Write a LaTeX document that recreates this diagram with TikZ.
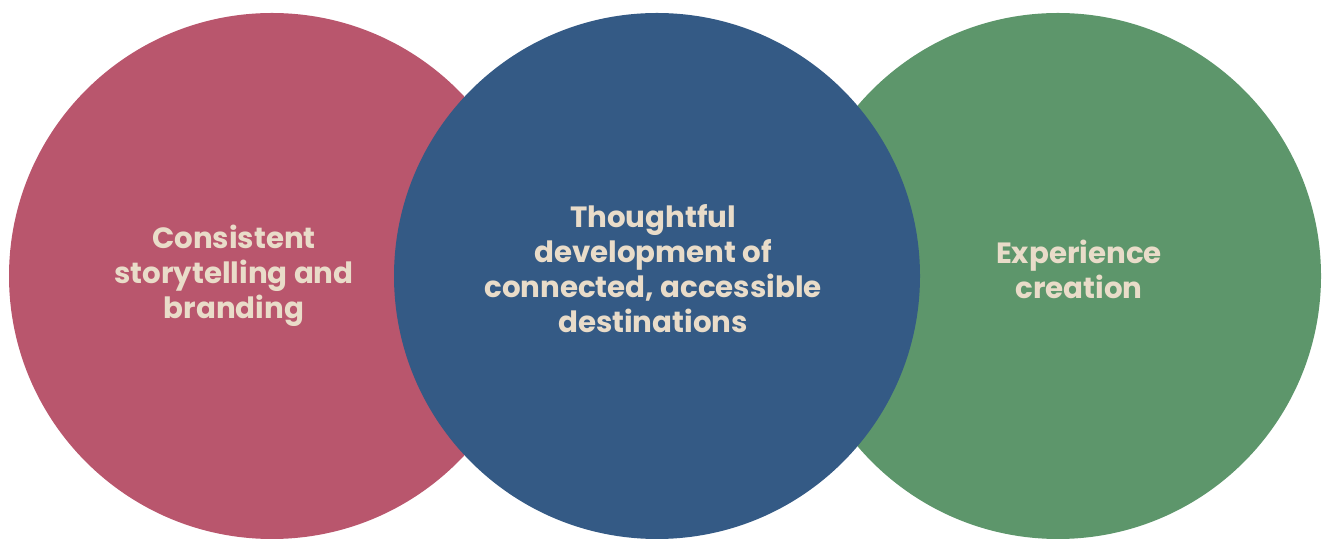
\documentclass[tikz,border=0pt]{standalone}
\usepackage{fontspec}
\setmainfont{Poppins}

\definecolor{rosewood}{HTML}{B9566D}
\definecolor{harbour}{HTML}{345A85}
\definecolor{fern}{HTML}{5D966B}
\definecolor{cream}{HTML}{E9DCC9}

\begin{document}
\begin{tikzpicture}[x=1pt,y=1pt,
	disc/.style = {circle, minimum size=526pt, inner sep=0pt, draw=none},
	caption/.style = {align=center, text=cream, font=\fontsize{29.3}{35}\selectfont\bfseries}]

	\useasboundingbox (0,0) rectangle (1322,540);

	% outer discs first, the middle one sits on top
	\node [disc, fill=rosewood] (brand) at (272,264) {};
	\node [disc, fill=fern] (experience) at (1058,264) {};
	\node [disc, fill=harbour] (destinations) at (657,264) {};

	\node [caption] (brandtext) at (234,264) {Consistent\\storytelling and\\branding};
	\node [caption] (desttext) at (653,271) {Thoughtful\\development of\\connected, accessible\\destinations};
	\node [caption] (exptext) at (1079,271) {Experience\\creation};

\end{tikzpicture}
\end{document}
